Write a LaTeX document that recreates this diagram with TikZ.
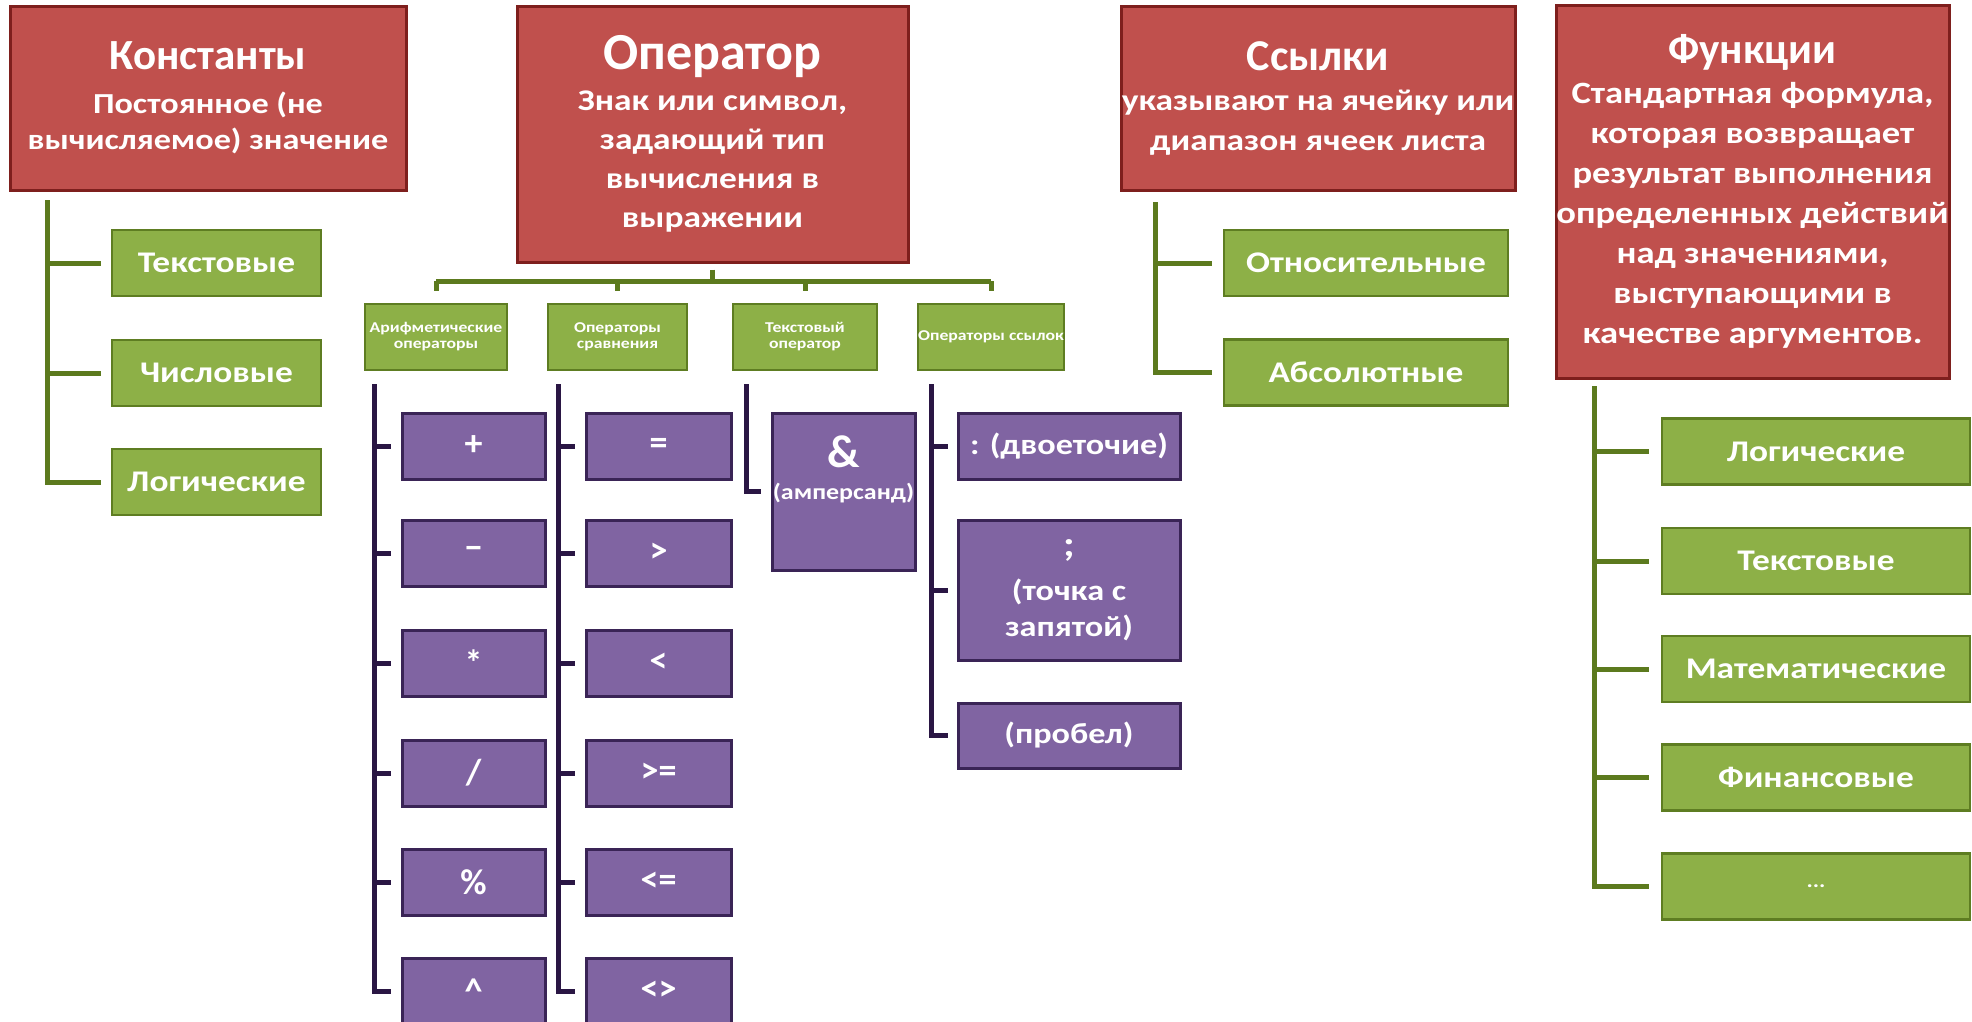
\documentclass[tikz,border=0pt]{standalone}
\usepackage{fontspec}
\setmainfont{Carlito}
\newfontfamily\wf[FakeStretch=1.18]{Carlito}
\definecolor{redfill}{HTML}{C0504D}
\definecolor{redborder}{HTML}{7E1F1D}
\definecolor{grfill}{HTML}{8DB047}
\definecolor{grborder}{HTML}{5E7D22}
\definecolor{grline}{HTML}{5C7A1E}
\definecolor{pufill}{HTML}{8064A2}
\definecolor{puborder}{HTML}{3A2456}
\definecolor{puline}{HTML}{2A1644}
\tikzset{
  headbox/.style={draw=redborder, line width=3pt, fill=redfill, text=white, align=center, inner sep=0pt},
  leafbox/.style={draw=grborder, line width=2.5pt, fill=grfill, text=white, align=center, inner sep=0pt, font=\wf\bfseries\fontsize{30}{34}\selectfont},
  subbox/.style={draw=grborder, line width=2.5pt, fill=grfill, text=white, align=center, inner sep=0pt, minimum height=66pt, font=\wf\bfseries\fontsize{15}{16}\selectfont},
  opbox/.style={draw=puborder, line width=3pt, fill=pufill, text=white, align=center, inner sep=0pt},
  opsym/.style={font=\bfseries\fontsize{36}{40}\selectfont},
  optxt/.style={font=\wf\bfseries\fontsize{29}{36}\selectfont},
  gline/.style={draw=grline, line width=5pt, line join=miter},
  pline/.style={draw=puline, line width=5pt, line join=miter},
}
\newcommand{\ttl}[2]{{\rmfamily\bfseries\fontsize{#1}{#1}\selectfont #2}}
\begin{document}
\begin{tikzpicture}[x=1pt,y=-1pt]
\useasboundingbox (0,0) rectangle (1972,1021);
\clip (0,0) rectangle (1972,1021);
\fill[white] (0,0) rectangle (1972,1021);

% ---------- heads ----------
\node[headbox, minimum width=396pt, minimum height=184pt, font=\wf\bfseries\fontsize{29}{36}\selectfont] (K) at (208,98)
  {\ttl{43}{Константы}\\[8pt]Постоянное (не\\вычисляемое) значение};
\node[headbox, minimum width=391pt, minimum height=256pt, font=\wf\bfseries\fontsize{30}{39}\selectfont] (O) at (712.5,134)
  {\ttl{52}{Оператор}\\[2pt]Знак или символ,\\задающий тип\\вычисления в\\выражении};
\node[headbox, minimum width=394pt, minimum height=184pt, font=\wf\bfseries\fontsize{30}{40}\selectfont] (S) at (1318,98)
  {\ttl{44}{Ссылки}\\[0pt]указывают на ячейку или\\диапазон ячеек листа};
\node[headbox, minimum width=393pt, minimum height=373pt, font=\wf\bfseries\fontsize{31}{40}\selectfont] (F) at (1752.5,191.5)
  {\ttl{43}{Функции}\\[0pt]Стандартная формула,\\которая возвращает\\результат выполнения\\определенных действий\\над значениями,\\выступающими в\\качестве аргументов.};

% ---------- Константы ----------
\node[leafbox, minimum width=209pt, minimum height=66pt] (k1) at (216.5,263) {Текстовые};
\node[leafbox, minimum width=209pt, minimum height=66pt] (k2) at (216.5,373) {Числовые};
\node[leafbox, minimum width=209pt, minimum height=66pt] (k3) at (216.5,482) {Логические};
\coordinate (kt) at (47,200);
\draw[gline] (kt) |- ([xshift=-10pt]k3.west);
\draw[gline] (kt |- k1.west) -- ([xshift=-10pt]k1.west);
\draw[gline] (kt |- k2.west) -- ([xshift=-10pt]k2.west);

% ---------- Оператор ----------
\node[subbox, minimum width=142pt] (a1) at (436,337) {Арифметические\\операторы};
\node[subbox, minimum width=139pt] (a2) at (617.5,337) {Операторы\\сравнения};
\node[subbox, minimum width=144pt] (a3) at (805,337) {Текстовый\\оператор};
\node[subbox, minimum width=144pt] (a4) at (991,337) {Операторы ссылок};
\coordinate (bus) at (712.5,281);
\draw[gline] ([yshift=-6pt]O.south) -- (O.south |- bus);
\draw[gline] (a1.north |- bus) -- (a4.north |- bus);
\foreach \n in {a1,a2,a3,a4}
  \draw[gline] (\n.north |- bus) -- ([yshift=12pt]\n.north);

% column 1: arithmetic
\foreach \nm/\yy/\sy in {p1/446/+, p2/553/{−}, p3/663/*, p4/773/{/}, p5/882/\%, p6/991/\textasciicircum}
  \node[opbox, opsym, minimum width=143pt, minimum height=66pt] (\nm) at (473.5,\yy) {\sy};
\coordinate (pt1) at (374,384);
\draw[pline] (pt1) |- ([xshift=-10pt]p6.west);
\foreach \nm in {p1,p2,p3,p4,p5}
  \draw[pline] (pt1 |- \nm.west) -- ([xshift=-10pt]\nm.west);

% column 2: comparison
\foreach \nm/\yy/\sy in {c1/446/=, c2/553/>, c3/663/<, c4/773/>=, c5/882/<=, c6/991/<>}
  \node[opbox, opsym, minimum width=145pt, minimum height=66pt] (\nm) at (658.5,\yy) {\sy};
\coordinate (pt2) at (558,384);
\draw[pline] (pt2) |- ([xshift=-10pt]c6.west);
\foreach \nm in {c1,c2,c3,c4,c5}
  \draw[pline] (pt2 |- \nm.west) -- ([xshift=-10pt]\nm.west);

% column 3: text operator
\node[opbox, minimum width=143pt, minimum height=157pt, font=\wf\bfseries\fontsize{22}{24}\selectfont] (t1) at (843.5,491.5)
  {{\rmfamily\fontsize{46}{46}\selectfont \&}\\[8pt](амперсанд)\\[24pt]\mbox{}};
\coordinate (pt3) at (746,384);
\draw[pline] (pt3) |- ([xshift=-10pt]t1.west);

% column 4: reference operators
\node[opbox, optxt, minimum width=222pt, minimum height=66pt] (r1) at (1069,446) {: (двоеточие)};
\node[opbox, optxt, minimum width=222pt, minimum height=140pt] (r2) at (1069,590) {{\fontsize{36}{36}\selectfont ;}\\[8pt](точка с\\запятой)};
\node[opbox, optxt, minimum width=222pt, minimum height=65pt] (r3) at (1069,735.5) {(пробел)};
\coordinate (pt4) at (931,384);
\draw[pline] (pt4) |- ([xshift=-9pt]r3.west);
\foreach \nm in {r1,r2}
  \draw[pline] (pt4 |- \nm.west) -- ([xshift=-9pt]\nm.west);

% ---------- Ссылки ----------
\node[leafbox, minimum width=284pt, minimum height=66pt] (s1) at (1366,263) {Относительные};
\node[leafbox, minimum width=284pt, minimum height=66pt] (s2) at (1366,372.5) {Абсолютные};
\coordinate (st) at (1155,202);
\draw[gline] (st) |- ([xshift=-11pt]s2.west);
\draw[gline] (st |- s1.west) -- ([xshift=-11pt]s1.west);

% ---------- Функции ----------
\foreach \nm/\yy/\tx in {f1/451.5/Логические, f2/561/Текстовые, f3/669/Математические, f4/777.5/Финансовые, f5/886.5/{\fontsize{20}{20}\selectfont ...}}
  \node[leafbox, minimum width=308pt, minimum height=66pt] (\nm) at (1816,\yy) {\tx};
\coordinate (ft) at (1594,386);
\draw[gline] (ft) |- ([xshift=-12pt]f5.west);
\foreach \nm in {f1,f2,f3,f4}
  \draw[gline] (ft |- \nm.west) -- ([xshift=-12pt]\nm.west);
\end{tikzpicture}
\end{document}
